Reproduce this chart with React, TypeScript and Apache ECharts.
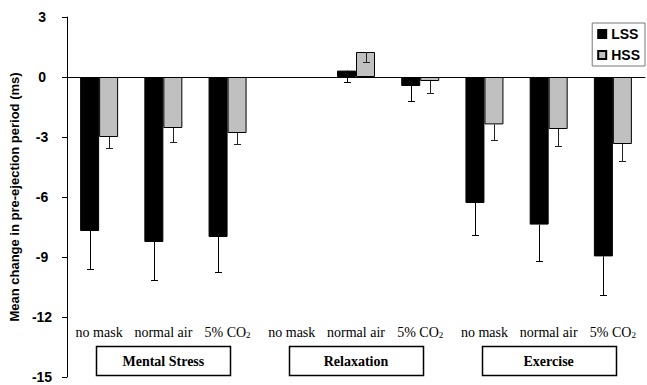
import React, { useEffect, useRef } from "react";
import * as echarts from "echarts";

// Conditions within each task block
const conditions = [
  "no mask", "normal air", "5% CO2",
  "no mask", "normal air", "5% CO2",
  "no mask", "normal air", "5% CO2",
];
// Task blocks, each spanning three conditions (index of the middle one)
const tasks = ["Mental Stress", "Relaxation", "Exercise"];
const taskCenters = [1, 4, 7];

// Mean change in pre-ejection period (ms)
const lss = [-7.7, -8.25, -8.0, null, 0.32, -0.45, -6.3, -7.38, -8.97];
const hss = [-3.0, -2.55, -2.8, null, 1.25, -0.2, -2.37, -2.6, -3.35];
// Standard errors (drawn downward from the mean)
const lssErr = [1.9, 1.9, 1.75, null, 0.57, 0.73, 1.58, 1.82, 1.93];
const hssErr = [0.55, 0.7, 0.55, null, 0.5, 0.58, 0.78, 0.85, 0.83];

const yTicks = { min: -15, max: 3, interval: 3 };

const SANS = "Liberation Sans";
const SERIF = "Liberation Serif";
const BAR_W = 19;

function errorSeries(values: (number | null)[], errs: (number | null)[], offset: number, color: string) {
  const data: number[][] = [];
  values.forEach((v, i) => {
    const e = errs[i];
    if (v != null && e != null) data.push([i, v, e]);
  });
  return {
    type: "custom",
    xAxisIndex: 0,
    z: 5,
    silent: true,
    data,
    renderItem: (_params: any, api: any) => {
      const i = api.value(0);
      const v = api.value(1);
      const e = api.value(2);
      const top = api.coord([i, v]);
      const bot = api.coord([i, v - e]);
      const x = Math.round(top[0] + offset) + 0.5;
      const yb = Math.round(bot[1]) + 0.5;
      const style = { stroke: color, lineWidth: 1 };
      return {
        type: "group",
        children: [
          { type: "line", shape: { x1: x, y1: top[1], x2: x, y2: yb }, style },
          { type: "line", shape: { x1: x - 3.5, y1: yb, x2: x + 3.5, y2: yb }, style },
        ],
      };
    },
  };
}

export default function App() {
  const ref = useRef<HTMLDivElement>(null);

  useEffect(() => {
    if (!ref.current) return;
    const chart = echarts.init(ref.current, null, { renderer: "svg" });
    chart.setOption({
      animation: false,
      backgroundColor: "#ffffff",
      grid: { left: 67, right: 2, top: 17, bottom: 8, containLabel: false },
      legend: {
        data: ["LSS", "HSS"],
        orient: "vertical",
        right: 2,
        top: 23,
        itemWidth: 8,
        itemHeight: 8,
        itemGap: 7,
        padding: [4, 5],
        borderColor: "#777",
        borderWidth: 1,
        icon: "rect",
        textStyle: { fontFamily: SANS, fontWeight: "bold", fontSize: 14, color: "#000" },
      },
      xAxis: [
        {
          type: "category",
          data: conditions,
          axisLine: { show: true, onZero: true, lineStyle: { color: "#000", width: 1 } },
          axisTick: { show: false },
          axisLabel: { show: false },
          splitLine: { show: false },
        },
        {
          type: "category",
          data: conditions,
          position: "bottom",
          axisLine: { show: false, onZero: false },
          axisTick: { show: false },
          splitLine: { show: false },
          axisLabel: {
            show: true,
            interval: 0,
            margin: -52,
            fontFamily: SERIF,
            fontSize: 14,
            color: "#000",
            formatter: (s: string) =>
              s.endsWith("CO2") ? "{main|" + s.slice(0, -1) + "}{sub|2}" : "{main|" + s + "}",
            rich: {
              main: { fontFamily: SERIF, fontSize: 14, color: "#000" },
              sub: { fontFamily: SERIF, fontSize: 9, color: "#000", padding: [5, 0, 0, 0] },
            },
          },
        },
      ],
      yAxis: {
        type: "value",
        min: yTicks.min,
        max: yTicks.max,
        interval: yTicks.interval,
        name: "Mean change in pre-ejection period (ms)",
        nameLocation: "middle",
        nameGap: 41,
        nameRotate: 90,
        nameTextStyle: { fontFamily: SANS, fontWeight: "bold", fontSize: 13, color: "#000" },
        axisLine: { show: true, lineStyle: { color: "#000", width: 1 } },
        axisTick: { show: true, length: 5, lineStyle: { color: "#000" } },
        splitLine: { show: false },
        axisLabel: {
          align: "center",
          margin: 25,
          fontFamily: SANS,
          fontWeight: "bold",
          fontSize: 14,
          color: "#000",
        },
      },
      series: [
        {
          name: "LSS",
          type: "bar",
          xAxisIndex: 0,
          data: lss,
          barWidth: BAR_W,
          barGap: "0%",
          itemStyle: { color: "#000", borderColor: "#000", borderWidth: 1 },
        },
        {
          name: "HSS",
          type: "bar",
          xAxisIndex: 0,
          data: hss,
          barWidth: BAR_W,
          barGap: "0%",
          itemStyle: { color: "#c0c0c0", borderColor: "#000", borderWidth: 1 },
        },
        errorSeries(lss, lssErr, -BAR_W / 2, "#000"),
        errorSeries(hss, hssErr, BAR_W / 2, "#222"),
      ],
    });

    // Task boxes under the condition labels
    const graphic: any[] = [];
    tasks.forEach((t, k) => {
      const cx = chart.convertToPixel({ xAxisIndex: 0 }, taskCenters[k]) as number;
      graphic.push({
        type: "rect",
        shape: { x: Math.round(cx - 67) + 0.5, y: 346.5, width: 134, height: 29 },
        style: { fill: "#fff", stroke: "#000", lineWidth: 1.5 },
      });
      graphic.push({
        type: "text",
        x: cx,
        y: 361,
        style: {
          text: t,
          font: "bold 14px " + SERIF,
          fontFamily: SERIF,
          fontWeight: "bold",
          fontSize: 14,
          fill: "#000",
          align: "center",
          verticalAlign: "middle",
        },
      });
    });
    chart.setOption({ graphic });

    return () => chart.dispose();
  }, []);

  return (
    <div
      ref={ref}
      style={{ position: "fixed", left: 0, top: 0, width: 647, height: 385, background: "#fff" }}
    />
  );
}
